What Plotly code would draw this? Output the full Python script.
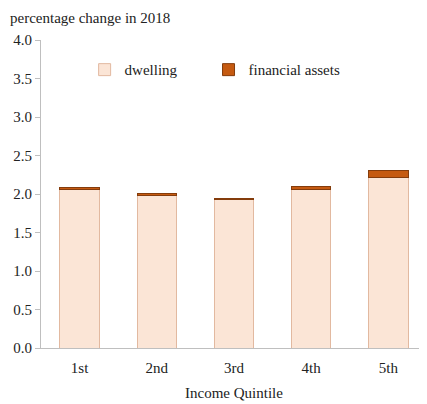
import plotly.graph_objects as go

categories = ["1st", "2nd", "3rd", "4th", "5th"]
dwelling = [2.065, 1.985, 1.925, 2.065, 2.21]
financial = [0.02, 0.02, 0.02, 0.03, 0.09]
y_ticks = [0.0, 0.5, 1.0, 1.5, 2.0, 2.5, 3.0, 3.5, 4.0]

font_family = "Liberation Serif"

fig = go.Figure()
fig.add_trace(go.Bar(x=categories, y=dwelling, name="dwelling", legend="legend",
                     marker=dict(color="#FBE5D6", line=dict(color="#E2B9A0", width=1))))
fig.add_trace(go.Bar(x=categories, y=financial, name="financial assets", legend="legend2",
                     marker=dict(color="#C55A11", line=dict(color="#843C0C", width=1))))

leg_common = dict(orientation="h", y=0.903, xanchor="left", yanchor="middle",
                  bgcolor="rgba(0,0,0,0)", font=dict(size=15, family=font_family),
                  itemwidth=30)

fig.update_layout(
    barmode="stack",
    bargap=0.49,
    width=419, height=396,
    margin=dict(l=33, r=0, t=32, b=56),
    plot_bgcolor="white", paper_bgcolor="white",
    font=dict(family=font_family, size=15, color="#222"),
    showlegend=True,
    legend=dict(x=0.113, **leg_common),
    legend2=dict(x=0.434, **leg_common),
    annotations=[dict(text="percentage change in 2018", xref="paper", yref="paper",
                      x=-33 / 386, y=1 + 32 / 308, xanchor="left", yanchor="top",
                      showarrow=False, font=dict(size=15, family=font_family))],
)
fig.update_yaxes(range=[0, 4.0], tickvals=y_ticks, ticktext=[f"{v:.1f}" for v in y_ticks],
                 showgrid=False, showline=True, linecolor="#BFBFBF", linewidth=1,
                 ticks="outside", ticklen=5, tickcolor="#BFBFBF", zeroline=False,
                 tickfont=dict(size=15, family=font_family))
fig.update_xaxes(showline=True, linecolor="#BFBFBF", linewidth=1,
                 ticks="outside", ticklen=6, tickcolor="rgba(0,0,0,0)",
                 title=dict(text="Income Quintile", standoff=12,
                            font=dict(size=15, family=font_family)),
                 tickfont=dict(size=15, family=font_family))

fig.write_html("out.html")
